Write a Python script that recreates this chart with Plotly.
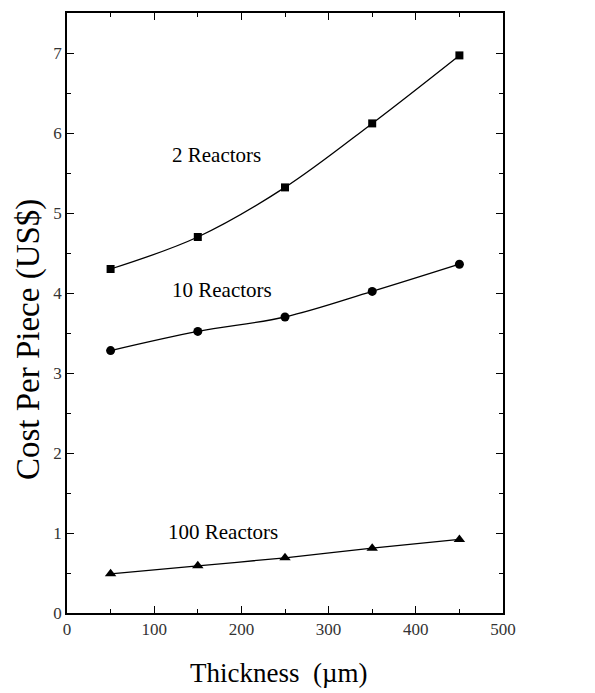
import plotly.graph_objects as go

thickness = [50, 150, 250, 350, 450]
cost_2 = [4.30, 4.70, 5.32, 6.12, 6.97]
cost_10 = [3.28, 3.52, 3.70, 4.02, 4.36]
cost_100 = [0.49, 0.59, 0.69, 0.81, 0.92]

labels = ["2 Reactors", "10 Reactors", "100 Reactors"]
label_x = [172, 178, 179]
label_y = [5.72, 4.04, 1.01]

x_title = "Thickness  (µm)"
y_title = "Cost Per Piece (US$)"

SERIF = "Liberation Serif, Times New Roman, DejaVu Serif, serif"

fig = go.Figure()
for ys, sym, sz in [(cost_2, "square", 8), (cost_10, "circle", 9), (cost_100, "triangle-up", 10)]:
    fig.add_trace(go.Scatter(x=thickness, y=ys, mode="lines+markers",
                             line=dict(color="black", width=1.3, shape="spline"),
                             marker=dict(symbol=sym, size=sz, color="black"),
                             showlegend=False))

for t, x, y in zip(labels, label_x, label_y):
    fig.add_annotation(x=x, y=y, text=t, showarrow=False,
                       font=dict(family=SERIF, size=21, color="black"))

fig.add_annotation(xref="paper", yref="paper", x=0.487, y=-0.10, text=x_title,
                   showarrow=False, xanchor="center", yanchor="middle",
                   font=dict(family=SERIF, size=27, color="black"))
fig.add_annotation(xref="paper", yref="paper", x=-0.087, y=0.455, text=y_title,
                   textangle=-90, showarrow=False, xanchor="center", yanchor="middle",
                   font=dict(family=SERIF, size=33, color="black"))

axis_common = dict(showline=True, linecolor="black", linewidth=1.5, mirror="ticks",
                   ticks="inside", ticklen=7, tickwidth=1.3, tickcolor="black",
                   showgrid=False, zeroline=False, automargin=False,
                   tickfont=dict(family=SERIF, size=17, color="#333"))

fig.update_xaxes(range=[0, 500], dtick=100, tick0=0,
                 minor=dict(ticks="inside", ticklen=4, dtick=50, tick0=0, tickcolor="black"),
                 **axis_common)
fig.update_yaxes(range=[0, 7.5], dtick=1, tick0=0,
                 minor=dict(ticks="inside", ticklen=4, dtick=0.5, tick0=0, tickcolor="black"),
                 **axis_common)

fig.update_layout(width=587, height=685, plot_bgcolor="white", paper_bgcolor="white",
                  font=dict(family=SERIF),
                  margin=dict(l=59, r=92, t=5, b=80))

fig.write_html("out.html")
